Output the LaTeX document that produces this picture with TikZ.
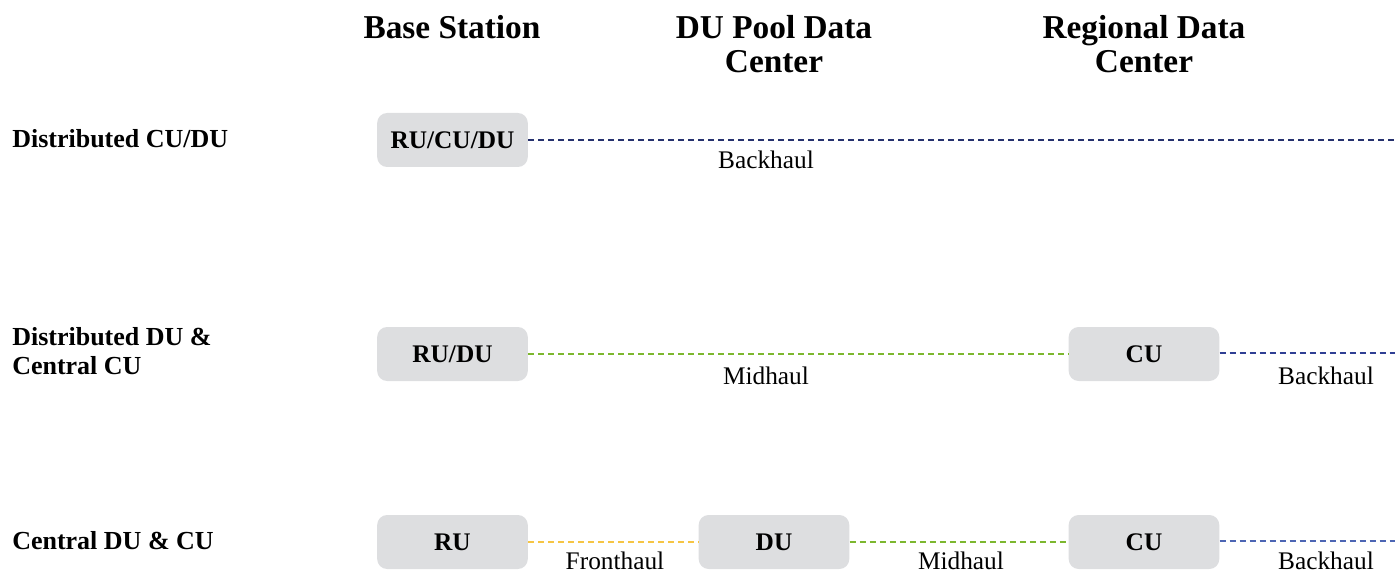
\documentclass[tikz,border=0pt]{standalone}
\usepackage{fontspec}
\setmainfont{Liberation Serif}
\usepackage{xcolor}
\usepackage{tikz}
\usetikzlibrary{positioning,calc}
\definecolor{boxgray}{HTML}{DDDEE0}
\definecolor{backnavy}{HTML}{26316E}
\definecolor{backblue}{HTML}{2F3F94}
\definecolor{backlight}{HTML}{4D66B4}
\definecolor{midgreen}{HTML}{7CB72E}
\definecolor{frontyellow}{HTML}{F6C544}
\tikzstyle{unit}= [rectangle, rounded corners=7.5pt, fill=boxgray, minimum width=113pt, minimum height=40.5pt, inner sep=0pt, font=\fontsize{19}{22}\selectfont\bfseries]
\tikzstyle{head}= [align=center, font=\fontsize{25}{25.5}\selectfont\bfseries]
\tikzstyle{rowlab}= [anchor=west, align=left, inner sep=0pt, font=\fontsize{19.5}{21.75}\selectfont\bfseries]
\tikzstyle{hlab}= [inner sep=0pt, font=\fontsize{19}{22}\selectfont]
\tikzstyle{link}= [dash pattern=on 4.5pt off 3pt, line width=0.8pt]

\begin{document}
\begin{tikzpicture}[x=0.75pt, y=-0.75pt]
						\useasboundingbox (0,0) rectangle (1400,574);
						% column heads
						\node[head] (hbs) at (452, 27) {Base Station};
						\node[head] (hdu) at (774, 44) {DU Pool Data\\Center};
						\node[head] (hrd) at (1144, 44) {Regional Data\\Center};
						% row labels
						\node[rowlab] (r1) at (12, 139) {Distributed CU/DU};
						\node[rowlab] (r2) at (12, 351) {Distributed DU \&\\Central CU};
						\node[rowlab] (r3) at (12, 541) {Central DU \& CU};
						% row 1
						\node[unit] (rcd) at (452.5, 140) {RU/CU/DU};
						\coordinate (e1) at (1395, 140);
						\draw[link, backnavy] (rcd) -- (e1);
						\node[hlab] (b1) at (766, 160) {Backhaul};
						% row 2
						\node[unit] (rd) at (452.5, 354) {RU/DU};
						\node[unit] (cu2) at (1144, 354) {CU};
						\coordinate (e2) at (1395, 353);
						\draw[link, midgreen] (rd) -- (cu2);
						\draw[link, backblue] (cu2.east |- e2) -- (e2);
						\node[hlab] (m2) at (766, 376) {Midhaul};
						\node[hlab] (b2) at (1326, 376) {Backhaul};
						% row 3
						\node[unit] (ru) at (452.5, 542) {RU};
						\node[unit] (du) at (774, 542) {DU};
						\node[unit] (cu3) at (1144, 542) {CU};
						\coordinate (e3) at (1395, 541);
						\draw[link, frontyellow] (ru) -- (du);
						\draw[link, midgreen] (du) -- (cu3);
						\draw[link, backlight] (cu3.east |- e3) -- (e3);
						\node[hlab] (f3) at (615, 561) {Fronthaul};
						\node[hlab] (m3) at (961, 561) {Midhaul};
						\node[hlab] (b3) at (1326, 561) {Backhaul};
					\end{tikzpicture}
\end{document}
